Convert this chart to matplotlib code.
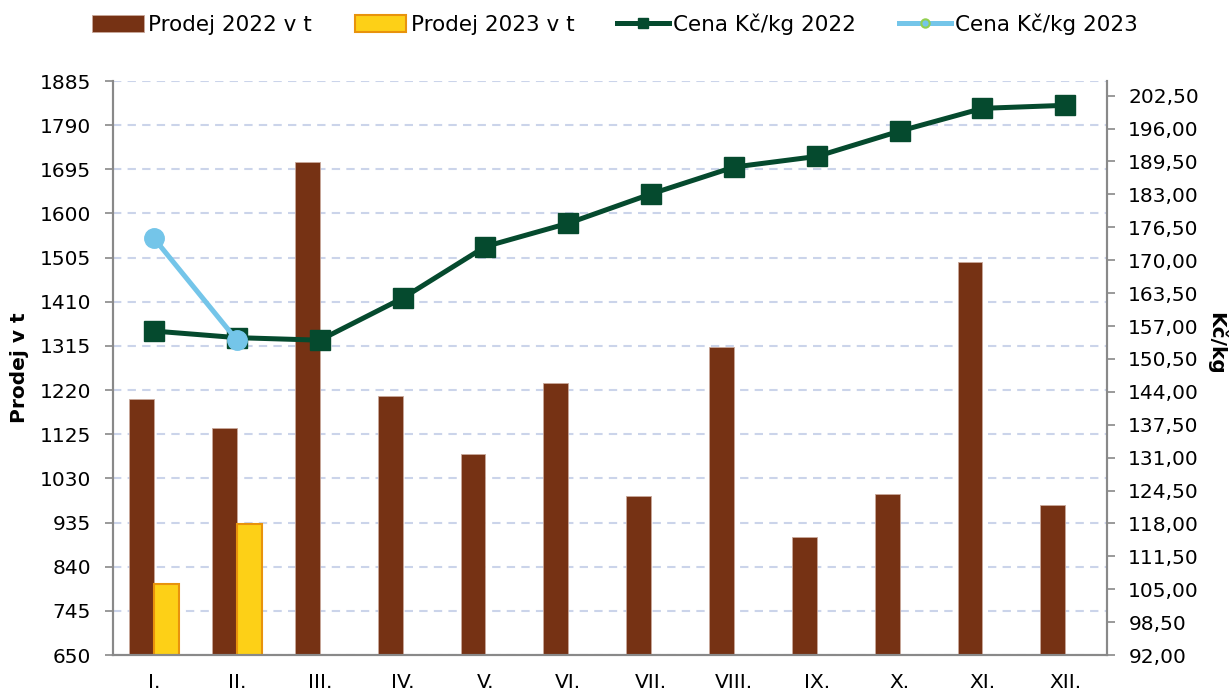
import matplotlib
matplotlib.use("Agg")
import matplotlib.pyplot as plt
import numpy as np
from matplotlib.lines import Line2D
from matplotlib.patches import Patch

months = ["I.", "II.", "III.", "IV.", "V.", "VI.", "VII.", "VIII.", "IX.", "X.", "XI.", "XII."]
sales_2022 = [1200, 1139, 1711, 1208, 1083, 1236, 992, 1312, 905, 996, 1496, 972]
sales_2023 = [803, 931]
price_2022 = [156.0, 154.7, 154.2, 162.5, 172.7, 177.3, 183.1, 188.4, 190.5, 195.5, 200.0, 200.6]
price_2023 = [174.3, 154.2]

left_ticks = np.arange(650, 1886, 95)
right_ticks = np.arange(92, 203, 6.5)

BROWN = "#763214"
YELLOW = "#fdd017"
ORANGE = "#e8930c"
GREEN = "#054a2e"
LBLUE = "#74c5e9"
SPINE = "#898989"
GRID = "#cbd4ea"

plt.rcParams["font.family"] = "DejaVu Sans"
fs = 14.5

fig = plt.figure(figsize=(12.3, 6.93), dpi=100)
ax = fig.add_axes([0.0916, 0.0548, 0.8082, 0.8283])
x = np.arange(len(months))
w = 0.30

# bars on the left axis
ax.bar(x - w / 2, sales_2022, w, color=BROWN, edgecolor="#c9a89a", linewidth=0.6, zorder=2)
ax.bar(x[:len(sales_2023)] + w / 2, sales_2023, w, color=YELLOW, edgecolor=ORANGE, linewidth=1.5, zorder=2)
ax.set_ylim(650, 1885)
ax.set_xlim(-0.5, len(months) - 0.5)
ax.set_yticks(left_ticks)
ax.set_yticklabels([str(v) for v in left_ticks], fontsize=fs)
ax.set_xticks(x)
ax.set_xticklabels(months, fontsize=fs)
ax.tick_params(axis="x", length=0, pad=13)
ax.tick_params(axis="y", direction="out", length=5.5, width=1.2, color=SPINE, pad=10)
ax.yaxis.grid(True, color=GRID, linestyle=(0, (4, 3)), linewidth=1.5)
ax.set_axisbelow(True)
ax.spines["top"].set_visible(False)
for s in ["left", "bottom", "right"]:
    ax.spines[s].set_color(SPINE)
    ax.spines[s].set_linewidth(1.5)
ax.set_ylabel("Prodej v t", fontsize=fs, fontweight="bold", labelpad=8)

# price lines on the right axis
ax2 = ax.twinx()
ax2.plot(x, price_2022, color=GREEN, lw=3.6, marker="s", markersize=14, zorder=3)
ax2.plot(x[:len(price_2023)], price_2023, color=LBLUE, lw=3.6, marker="o", markersize=14, zorder=4)
ax2.set_ylim(92, 205.4)
ax2.set_yticks(right_ticks)
ax2.set_yticklabels([f"{v:.2f}".replace(".", ",") for v in right_ticks], fontsize=fs)
ax2.tick_params(axis="y", direction="out", length=5.5, width=1.2, color=SPINE, pad=10)
ax2.spines["top"].set_visible(False)
for s in ["left", "bottom", "right"]:
    ax2.spines[s].set_color(SPINE)
    ax2.spines[s].set_linewidth(1.5)
fig.text(0.989, 0.505, "Kč/kg", rotation=-90, fontsize=fs, fontweight="bold", ha="center", va="center")

handles = [
    Patch(facecolor=BROWN, edgecolor="#c9a89a", linewidth=0.6),
    Patch(facecolor=YELLOW, edgecolor=ORANGE, linewidth=1.5),
    Line2D([], [], color=GREEN, lw=3.6, marker="s", markersize=7),
    Line2D([], [], color=LBLUE, lw=3.6, marker="o", markersize=6,
           markerfacecolor=LBLUE, markeredgecolor="#92d050", markeredgewidth=1.5),
]
labels = ["Prodej 2022 v t", "Prodej 2023 v t", "Cena Kč/kg 2022", "Cena Kč/kg 2023"]
fig.legend(handles, labels, loc="center", bbox_to_anchor=(0.5, 0.965), ncol=4, frameon=False,
           fontsize=15.5, handlelength=2.4, handletextpad=0.2, columnspacing=2.0, handleheight=0.8)

fig.savefig("out.png", dpi=100)
